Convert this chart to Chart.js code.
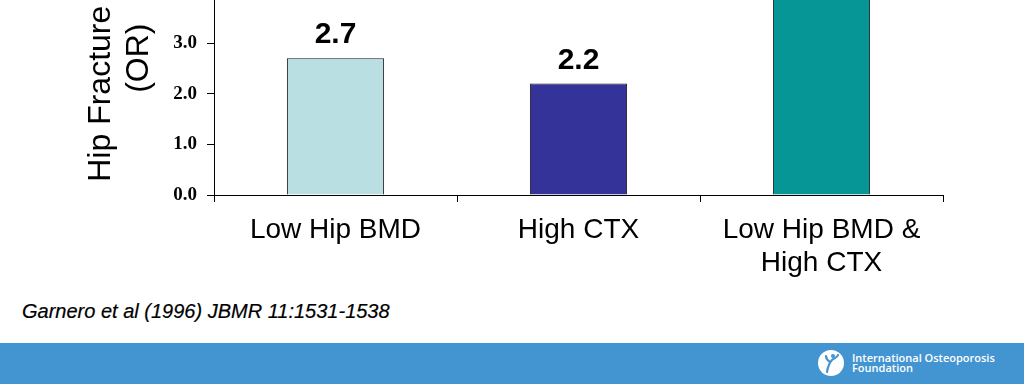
<!DOCTYPE html>
<html lang="en">
<head>
    <meta charset="UTF-8">
    <title>Hip Fracture Risk</title>
    <script src="https://cdn.jsdelivr.net/npm/chart.js@4.4.1/dist/chart.umd.min.js"></script>
    <style>
        html, body {
            margin: 0;
            padding: 0;
            width: 1024px;
            height: 384px;
            overflow: hidden;
            background: #ffffff;
            position: relative;
            font-family: 'Liberation Sans', Arial, sans-serif;
        }
        .chart-wrapper {
            position: absolute;
            left: 0;
            top: -100px;
            width: 1024px;
            height: 390px;
        }
        .citation {
            position: absolute;
            left: 22px;
            top: 300px;
            font-size: 20px;
            font-style: italic;
            color: #000;
            white-space: nowrap;
            -webkit-text-stroke: 0.2px #000;
        }
        .footer {
            position: absolute;
            left: 0;
            top: 343px;
            width: 1024px;
            height: 41px;
            background: #4395d1;
        }
        .logo {
            position: absolute;
            left: 818px;
            top: 7px;
            display: flex;
            align-items: center;
        }
        .logo-text {
            margin-left: 8px;
            color: #fff;
            font-family: 'Open Sans', sans-serif;
            font-weight: 600;
            font-size: 11px;
            line-height: 10px;
        }
    </style>
</head>
<body>
    <div class="chart-wrapper">
        <canvas id="orChart"></canvas>
    </div>

    <div class="citation">Garnero et al (1996) JBMR 11:1531-1538</div>

    <div class="footer">
        <div class="logo">
            <svg width="26" height="26" viewBox="0 0 26 26">
                <circle cx="13" cy="13" r="13" fill="#ffffff"/>
                <path d="M9 22 C10 16 11 13 14 10 M14 10 C16 8 19 8 20 5 M12 12 C9 10 8 8 8 6" stroke="#4395d1" stroke-width="2.2" fill="none" stroke-linecap="round"/>
                <circle cx="15" cy="6" r="2" fill="#4395d1"/>
            </svg>
            <div class="logo-text">International Osteoporosis<br>Foundation</div>
        </div>
    </div>

    <script>
        // データ
        const categories = ['Low Hip BMD', 'High CTX', ['Low Hip BMD &', 'High CTX']];
        const oddsRatios = [2.7, 2.2, 4.8];
        const barColors = ['#b9dfe2', '#333399', '#069696'];
        const yTicks = [0, 1, 2, 3, 4, 5];

        // 棒の上に値を表示
        const valueLabels = {
            id: 'valueLabels',
            afterDatasetsDraw(chart) {
                const ctx = chart.ctx;
                const meta = chart.getDatasetMeta(0);
                ctx.save();
                ctx.font = "bold 30px 'Liberation Sans', Arial, sans-serif";
                ctx.fillStyle = '#000';
                ctx.textAlign = 'center';
                ctx.textBaseline = 'alphabetic';
                meta.data.forEach((bar, i) => {
                    ctx.fillText(oddsRatios[i].toFixed(1), bar.x, bar.y - 15);
                });
                ctx.restore();
            }
        };

        const ctx = document.getElementById('orChart').getContext('2d');
        new Chart(ctx, {
            type: 'bar',
            data: {
                labels: categories,
                datasets: [{
                    data: oddsRatios,
                    backgroundColor: barColors,
                    borderColor: '#1a1a1a',
                    borderWidth: 1,
                    borderSkipped: 'bottom',
                    barPercentage: 0.4,
                    categoryPercentage: 1.0
                }]
            },
            options: {
                responsive: true,
                maintainAspectRatio: false,
                animation: false,
                layout: {
                    padding: { top: 8, right: 81, left: 0, bottom: 0 }
                },
                plugins: {
                    legend: { display: false },
                    tooltip: { enabled: false }
                },
                scales: {
                    x: {
                        afterFit(scale) { scale.height = 95; },
                        grid: {
                            display: true,
                            drawOnChartArea: false,
                            offset: true,
                            tickLength: 7,
                            color: '#000'
                        },
                        border: { display: true, color: '#000', width: 1 },
                        ticks: {
                            color: '#000',
                            autoSkip: false,
                            maxRotation: 0,
                            padding: 11,
                            font: { family: "'Liberation Sans', Arial, sans-serif", size: 28 }
                        }
                    },
                    y: {
                        min: 0,
                        max: 5.4,
                        afterFit(scale) { scale.width = 214; },
                        afterBuildTicks(scale) {
                            scale.ticks = yTicks.map(v => ({ value: v }));
                        },
                        grid: {
                            display: true,
                            drawOnChartArea: false,
                            tickLength: 7,
                            color: '#000'
                        },
                        border: { display: true, color: '#000', width: 1 },
                        ticks: {
                            color: '#000',
                            padding: 10,
                            font: { family: "'Liberation Serif', 'Times New Roman', serif", size: 19, weight: 'bold' },
                            callback: function(value) {
                                return Number(value).toFixed(1);
                            }
                        },
                        title: {
                            display: true,
                            text: ['Hip Fracture Risk', '(OR)'],
                            color: '#000',
                            padding: { top: 82, bottom: 0 },
                            font: { family: "'Liberation Sans', Arial, sans-serif", size: 32, lineHeight: 1.2 }
                        }
                    }
                }
            },
            plugins: [valueLabels]
        });
    </script>
</body>
</html>
